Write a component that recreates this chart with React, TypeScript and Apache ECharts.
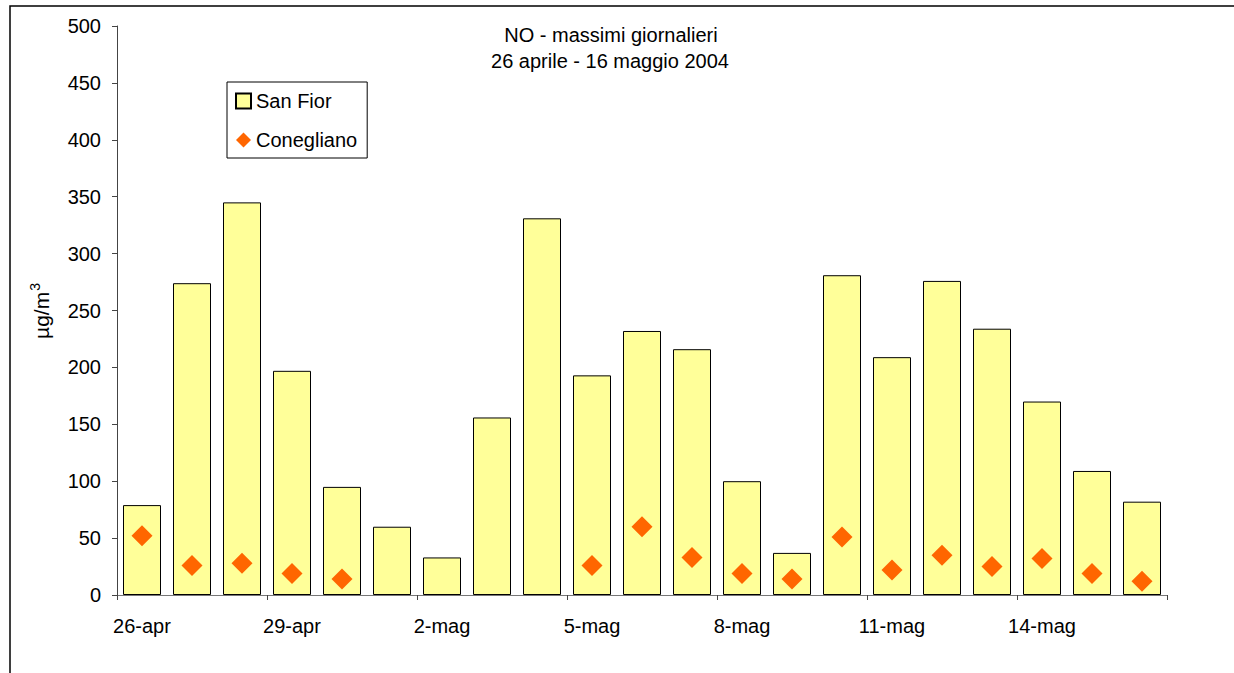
import React, { useEffect, useRef } from "react";
import * as echarts from "echarts";

const categories = [
  "26-apr", "27-apr", "28-apr", "29-apr", "30-apr", "1-mag", "2-mag",
  "3-mag", "4-mag", "5-mag", "6-mag", "7-mag", "8-mag", "9-mag",
  "10-mag", "11-mag", "12-mag", "13-mag", "14-mag", "15-mag", "16-mag",
];
const sanFior = [79, 274, 345, 197, 95, 60, 33, 156, 331, 193, 232, 216, 100, 37, 281, 209, 276, 234, 170, 109, 82];
const conegliano = [52, 26, 28, 19, 14, null, null, null, null, 26, 60, 33, 19, 14, 51, 22, 35, 25, 32, 19, 12];
const yTicks = { min: 0, max: 500, interval: 50 };
const titleLines = ["NO - massimi giornalieri", "26 aprile - 16 maggio 2004"];
const yNameMain = "µg/m";
const yNameSup = "3";

const FONT = "'Liberation Sans', Arial, sans-serif";

export default function App() {
  const ref = useRef<HTMLDivElement>(null);
  useEffect(() => {
    const chart = echarts.init(ref.current!, null, { renderer: "svg" });
    chart.setOption({
      animation: false,
      backgroundColor: "#fff",
      textStyle: { fontFamily: FONT },
      grid: { left: 117, right: 67, top: 26, bottom: 78, containLabel: false },
      graphic: [
        {
          type: "rect",
          shape: { x: 10, y: 6, width: 1400, height: 800 },
          style: { fill: "none", stroke: "#000", lineWidth: 1.5 },
          silent: true,
        },
        {
          type: "text",
          x: 611,
          y: 35,
          style: { text: titleLines[0], font: `20px ${FONT}`, fill: "#000", textAlign: "center", textVerticalAlign: "middle" },
        },
        {
          type: "text",
          x: 610,
          y: 61,
          style: { text: titleLines[1], font: `20px ${FONT}`, fill: "#000", textAlign: "center", textVerticalAlign: "middle" },
        },
        {
          type: "text",
          x: 40,
          y: 311,
          rotation: Math.PI / 2,
          style: {
            text: `{m|${yNameMain}}{s|${yNameSup}}`,
            textAlign: "center",
            textVerticalAlign: "middle",
            rich: {
              m: { fontSize: 21, fontFamily: FONT, fill: "#000", color: "#000", verticalAlign: "bottom", lineHeight: 24 },
              s: { fontSize: 14, fontFamily: FONT, fill: "#000", color: "#000", verticalAlign: "top", lineHeight: 24, padding: [0, 0, 10, 1] },
            },
          },
        },
      ],
      legend: {
        orient: "vertical",
        left: 227,
        top: 82,
        padding: [9, 10, 8, 8],
        itemGap: 19,
        itemWidth: 15,
        itemHeight: 15,
        borderColor: "#000",
        borderWidth: 1,
        textStyle: { fontSize: 20, color: "#000", fontFamily: FONT },
        data: [
          { name: "San Fior", icon: "rect" },
          { name: "Conegliano", icon: "diamond" },
        ],
      },
      xAxis: {
        type: "category",
        data: categories,
        boundaryGap: true,
        axisLine: { lineStyle: { color: "#777", width: 1 } },
        axisTick: { show: true, interval: 2, length: 5, alignWithLabel: false, lineStyle: { color: "#444" } },
        axisLabel: { interval: 2, fontSize: 20, color: "#000", margin: 21, fontFamily: FONT },
      },
      yAxis: {
        type: "value",
        min: yTicks.min,
        max: yTicks.max,
        interval: yTicks.interval,
        splitLine: { show: false },
        axisLine: { show: true, lineStyle: { color: "#444", width: 1 } },
        axisTick: { show: true, length: 5, lineStyle: { color: "#444" } },
        axisLabel: { fontSize: 20, color: "#000", margin: 16, fontFamily: FONT },
      },
      series: [
        {
          name: "San Fior",
          type: "bar",
          data: sanFior,
          barCategoryGap: "24%",
          itemStyle: { color: "#FFFF99", borderColor: "#000", borderWidth: 1 },
        },
        {
          name: "Conegliano",
          type: "scatter",
          data: conegliano,
          symbol: "diamond",
          symbolSize: 21,
          itemStyle: { color: "#FF6600", opacity: 1 },
        },
      ],
    });
    return () => chart.dispose();
  }, []);
  return (
    <div
      ref={ref}
      style={{ position: "fixed", left: 0, top: 0, width: 1234, height: 673, background: "#fff" }}
    />
  );
}
